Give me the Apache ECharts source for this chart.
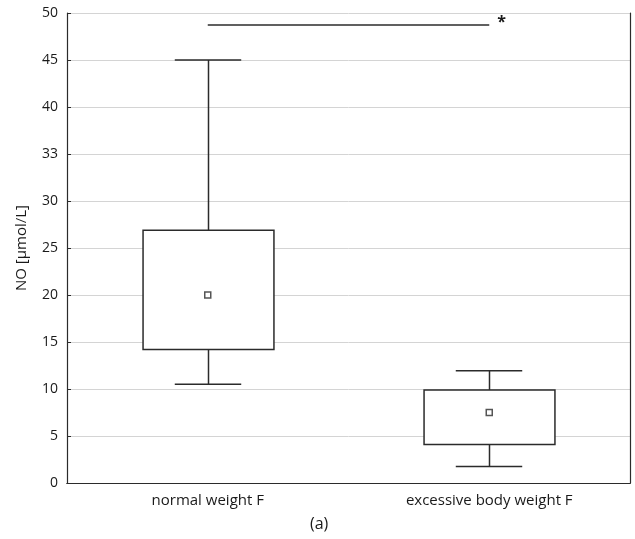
<!DOCTYPE html>
<html>
<head>
<meta charset="utf-8">
<script src="https://cdn.jsdelivr.net/npm/echarts@6/dist/echarts.min.js"></script>
<style>
  html, body { margin: 0; padding: 0; background: #fff; }
  #chart { width: 635px; height: 539px; }
</style>
</head>
<body>
<div id="chart"></div>
<script>
var categories = ['normal weight F', 'excessive body weight F'];
var whiskerLow = [10.5, 1.75];
var q1 = [14.2, 4.1];
var q3 = [26.9, 9.9];
var whiskerHigh = [45, 11.95];
var means = [20, 7.5];
var sigLevel = 48.7;
// tick labels as printed in the original figure (note the "33")
var yTickLabels = ['0', '5', '10', '15', '20', '25', '30', '33', '40', '45', '50'];

var FONT = 'Open Sans';
var INK = '#2b2b2b';
var TEXT = '#1a1a1a';

window.onload = function () {
  var chart = echarts.init(document.getElementById('chart'));

  var boxData = categories.map(function (c, i) {
    return [i, whiskerLow[i], q1[i], q3[i], whiskerHigh[i]];
  });
  var meanData = categories.map(function (c, i) {
    return [i, means[i]];
  });

  function renderBox(params, api) {
    var x = api.value(0);
    var pLow = api.coord([x, api.value(1)]);
    var pQ1 = api.coord([x, api.value(2)]);
    var pQ3 = api.coord([x, api.value(3)]);
    var pHigh = api.coord([x, api.value(4)]);
    var band = api.size([1, 0])[0];
    var w = band * 0.465;
    var cap = w / 2;
    var cx = Math.round(pQ1[0]) + 0.5;
    var lineStyle = { stroke: INK, lineWidth: 1.5, fill: null };
    return {
      type: 'group',
      children: [
        { type: 'line', shape: { x1: cx, y1: pQ3[1], x2: cx, y2: pHigh[1] }, style: lineStyle },
        { type: 'line', shape: { x1: cx, y1: pQ1[1], x2: cx, y2: pLow[1] }, style: lineStyle },
        { type: 'line', shape: { x1: cx - cap / 2 - 1, y1: pHigh[1], x2: cx + cap / 2, y2: pHigh[1] }, style: lineStyle },
        { type: 'line', shape: { x1: cx - cap / 2 - 1, y1: pLow[1], x2: cx + cap / 2, y2: pLow[1] }, style: lineStyle },
        {
          type: 'rect',
          shape: { x: cx - w / 2, y: pQ3[1], width: w, height: pQ1[1] - pQ3[1] },
          style: { fill: '#fff', stroke: INK, lineWidth: 1.5 }
        }
      ]
    };
  }

  var option = {
    backgroundColor: '#fff',
    animation: false,
    grid: { left: 67, right: 5, top: 13, bottom: 56 },
    title: {
      text: '(a)',
      left: 305,
      top: 511,
      textStyle: { fontFamily: FONT, fontSize: 16, fontWeight: 'normal', color: TEXT }
    },
    xAxis: [
      {
        type: 'category',
        data: categories,
        boundaryGap: true,
        axisLine: { lineStyle: { color: INK, width: 1.2 } },
        axisTick: { inside: true, alignWithLabel: true, length: 3, lineStyle: { color: INK } },
        axisLabel: { fontFamily: FONT, fontSize: 15, color: TEXT, margin: 10 },
        splitLine: { show: false }
      },
      {
        type: 'category',
        data: categories,
        position: 'top',
        boundaryGap: true,
        axisLine: { lineStyle: { color: INK, width: 1.2 } },
        axisTick: { inside: true, alignWithLabel: true, length: 3, lineStyle: { color: INK } },
        axisLabel: { show: false },
        splitLine: { show: false }
      }
    ],
    yAxis: [
      {
        type: 'value',
        min: 0,
        max: 50,
        interval: 5,
        name: 'NO [\u00b5mol/L]',
        nameLocation: 'middle',
        nameGap: 38,
        nameTextStyle: { fontFamily: FONT, fontSize: 15, color: TEXT },
        axisLine: { show: true, lineStyle: { color: INK, width: 1.2 } },
        axisTick: { show: true, inside: true, length: 4, lineStyle: { color: INK } },
        axisLabel: {
          fontFamily: FONT, fontSize: 14, color: TEXT, margin: 9,
          formatter: function (v) { return yTickLabels[Math.round(v / 5)]; }
        },
        splitLine: { show: true, lineStyle: { color: '#d4d4d4', width: 1 } }
      },
      {
        type: 'value',
        min: 0,
        max: 50,
        interval: 5,
        position: 'right',
        axisLine: { show: true, lineStyle: { color: INK, width: 1.2 } },
        axisTick: { show: false },
        axisLabel: { show: false },
        splitLine: { show: false }
      }
    ],
    series: [
      {
        type: 'custom',
        renderItem: renderBox,
        encode: { x: 0, y: [1, 2, 3, 4] },
        data: boxData,
        z: 3,
        markLine: {
          silent: true,
          symbol: 'none',
          lineStyle: { color: INK, width: 1.5, type: 'solid' },
          label: {
            show: true,
            position: 'end',
            formatter: '*',
            distance: 8,
            offset: [0, -3],
            fontFamily: FONT,
            fontSize: 16,
            fontWeight: 'bold',
            color: TEXT
          },
          data: [[{ coord: [0, sigLevel] }, { coord: [1, sigLevel] }]]
        }
      },
      {
        type: 'scatter',
        data: meanData,
        symbol: 'rect',
        symbolSize: 6,
        z: 5,
        itemStyle: { color: '#fff', borderColor: INK, borderWidth: 1.5 }
      }
    ]
  };
  chart.setOption(option);
};
</script>
</body>
</html>
